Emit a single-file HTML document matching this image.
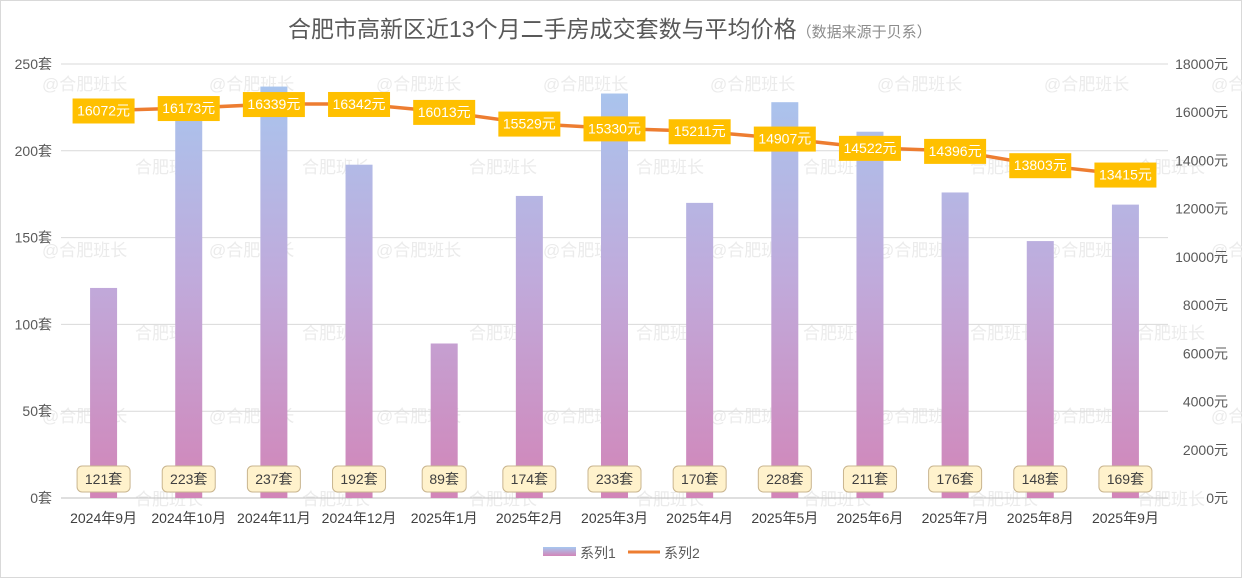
<!DOCTYPE html>
<html><head><meta charset="utf-8"><style>
body{margin:0;background:#fff;font-family:"Liberation Sans","Noto Sans CJK SC",sans-serif}
svg text{font-family:"Liberation Sans","Noto Sans CJK SC",sans-serif}
</style></head><body>
<svg id="c" width="1242" height="578" viewBox="0 0 1242 578" xmlns="http://www.w3.org/2000/svg">
<defs>
<linearGradient id="bg" gradientUnits="userSpaceOnUse" x1="0" y1="64" x2="0" y2="498">
<stop offset="0" stop-color="#A6C8F0"/><stop offset="0.5" stop-color="#C0AADB"/><stop offset="1" stop-color="#D285B8"/>
</linearGradient>
<linearGradient id="lg" x1="0" y1="0" x2="0" y2="1"><stop offset="0" stop-color="#A6C8F0"/><stop offset="1" stop-color="#D285B8"/></linearGradient>
</defs>
<rect x="0.5" y="0.5" width="1241" height="577" fill="#fff" stroke="#d9d9d9"/>
<g id="wm"></g>
<text x="288" y="37" font-size="23" fill="#595959">合肥市高新区近13个月二手房成交套数与平均价格<tspan font-size="15" fill="#8c8c8c">（数据来源于贝系）</tspan></text>
<g id="grid"></g><g id="bars"></g><g id="line"></g><g id="labels"></g><g id="axes"></g>
<g>
<rect x="543" y="547" width="33" height="9" fill="url(#lg)"/>
<text x="580" y="558" font-size="14" fill="#595959">系列1</text>
<line x1="628" y1="552" x2="660" y2="552" stroke="#ED7D31" stroke-width="3"/>
<text x="664" y="558" font-size="14" fill="#595959">系列2</text>
</g>
</svg>
<script>
const categories=["2024年9月","2024年10月","2024年11月","2024年12月","2025年1月","2025年2月","2025年3月","2025年4月","2025年5月","2025年6月","2025年7月","2025年8月","2025年9月"];
const counts=[121,223,237,192,89,174,233,170,228,211,176,148,169];
const prices=[16072,16173,16339,16342,16013,15529,15330,15211,14907,14522,14396,13803,13415];
const leftTicks=[0,50,100,150,200,250];
const rightTicks=[0,2000,4000,6000,8000,10000,12000,14000,16000,18000];
const NS="http://www.w3.org/2000/svg";
const X0=61,X1=1168,Y0=498,Y1=64;
const step=(X1-X0)/categories.length;
const xc=i=>X0+step*(i+0.5);
const yl=v=>Y0-(v/250)*(Y0-Y1);
const yr=v=>Y0-(v/18000)*(Y0-Y1);
function mk(tag,attrs,parent,txt){const e=document.createElementNS(NS,tag);for(const k in attrs)e.setAttribute(k,attrs[k]);if(txt!==undefined)e.textContent=txt;document.getElementById(parent).appendChild(e);return e;}
for(let r=0;r<6;r++)for(let c=0;c<8;c++){const t=mk('text',{x:(r%2?135:42)+c*167,y:90+r*83,'font-size':17,fill:'#ebebeb'},'wm',(r%2?'合肥班长':'@合肥班长'));

}
leftTicks.forEach(v=>{const g=mk('line',{x1:X0,x2:X1,y1:yl(v),y2:yl(v),stroke:v===0?'#bfbfbf':'#d9d9d9','stroke-width':1},'grid');


const t=mk('text',{x:52,y:yl(v)+5,'text-anchor':'end','font-size':14,fill:'#595959'},'axes',v+'套');

});
rightTicks.forEach(v=>{const t=mk('text',{x:1228,y:yr(v)+5,'text-anchor':'end','font-size':14,fill:'#595959'},'axes',v+'元');

});
categories.forEach((c,i)=>{const t=mk('text',{x:xc(i),y:523,'text-anchor':'middle','font-size':14,fill:'#404040'},'axes',c);

});
counts.forEach((v,i)=>{const w=27;const b=mk('rect',{x:xc(i)-w/2,y:yl(v),width:w,height:Y0-yl(v),fill:'url(#bg)'},'bars');


const bw=String(v).length*9+26;
const r=mk('rect',{x:xc(i)-bw/2,y:466,width:bw,height:26,rx:5,fill:'#FFF2CC',stroke:'#C9B58F'},'labels');


const t=mk('text',{x:xc(i),y:484,'text-anchor':'middle','font-size':14,fill:'#404040'},'labels',v+'套');

});
const pts=prices.map((v,i)=>xc(i)+','+yr(v)).join(' ');
const pl=mk('polyline',{points:pts,fill:'none',stroke:'#ED7D31','stroke-width':3.5,'stroke-linejoin':'round'},'line');


prices.forEach((v,i)=>{const r=mk('rect',{x:xc(i)-31,y:yr(v)-12,width:62,height:25,fill:'#FFC000'},'labels');


const t=mk('text',{x:xc(i),y:yr(v)+5,'text-anchor':'middle','font-size':14,fill:'#fff'},'labels',v+'元');

});
</script>
</body></html>
